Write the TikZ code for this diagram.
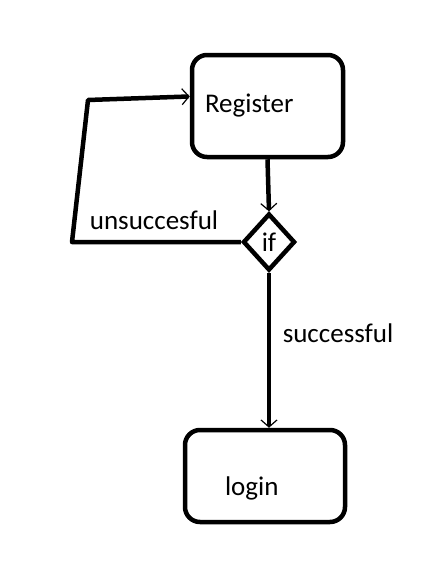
\documentclass[tikz,border=0pt]{standalone}
\usepackage{fontspec}
\setmainfont{Carlito}
\usetikzlibrary{positioning,shapes.geometric,arrows.meta}

\tikzset{
  box/.style={draw, line width=4.5pt, rounded corners=15pt, align=left},
  cond/.style={draw, diamond, line width=4.5pt, inner sep=0pt, minimum width=52pt, minimum height=57pt},
  link/.style={line width=4.5pt, -{Straight Barb[length=7pt,width=16pt,line width=1.2pt]}},
}

\begin{document}
\begin{tikzpicture}[x=1pt, y=-1pt, font=\fontsize{27}{32}\selectfont]
  \useasboundingbox (0,0) rectangle (445,576);
  % boxes
  \node [box, text width=125pt, inner xsep=13pt, minimum height=102pt] (reg) at (267.5,106) {Register};
  \node [cond] (if) at (269,242) {if};
  \node [box, text width=80pt, inner xsep=40pt, minimum height=92pt, text height=44pt] (login) at (265,476) {login};
  % loop back
  \coordinate (p1) at (72,242);
  \coordinate (p2) at (88,100);
  \draw [link] (reg.south) -- (if.north);
  \draw [link, line join=round] (if.west) -- (p1) -- (p2) -- (reg.173);
  \draw [link] (if.south) -- (if.south |- login.north);
  % labels
  \node (fail) at (154,220) {unsuccesful};
  \node (ok) at (338,333) {successful};
\end{tikzpicture}
\end{document}
